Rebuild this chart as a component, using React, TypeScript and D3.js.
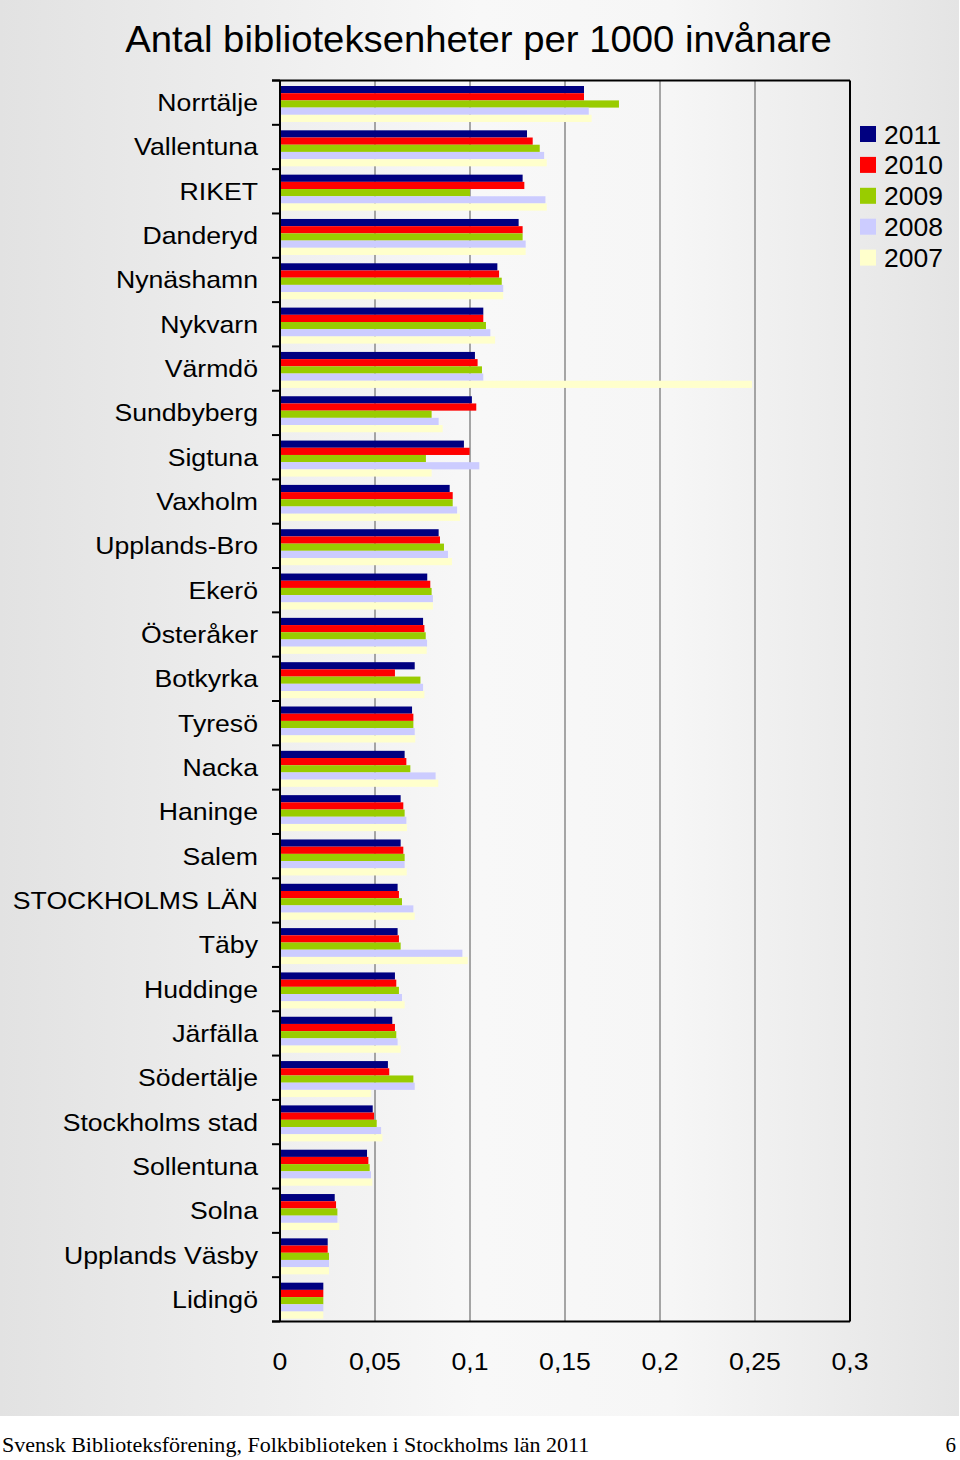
import React from "react";
import * as d3 from "d3";

const categories = [
  "Norrtälje", "Vallentuna", "RIKET", "Danderyd", "Nynäshamn", "Nykvarn", "Värmdö",
  "Sundbyberg", "Sigtuna", "Vaxholm", "Upplands-Bro", "Ekerö", "Österåker", "Botkyrka",
  "Tyresö", "Nacka", "Haninge", "Salem", "STOCKHOLMS LÄN", "Täby", "Huddinge", "Järfälla",
  "Södertälje", "Stockholms stad", "Sollentuna", "Solna", "Upplands Väsby", "Lidingö",
];

const years = ["2011", "2010", "2009", "2008", "2007"];

const v2011 = [0.160, 0.130, 0.1277, 0.1256, 0.1144, 0.107, 0.1026, 0.101, 0.0968, 0.0893, 0.0835, 0.0775, 0.0753, 0.0709, 0.0695, 0.0656, 0.0635, 0.0635, 0.0619, 0.0619, 0.0605, 0.0591, 0.0568, 0.0488, 0.0458, 0.0288, 0.0251, 0.0228];
const v2010 = [0.160, 0.133, 0.1286, 0.1277, 0.1153, 0.107, 0.104, 0.1033, 0.0998, 0.0909, 0.0842, 0.0791, 0.076, 0.0605, 0.0702, 0.0665, 0.0649, 0.0649, 0.0626, 0.0626, 0.0612, 0.0605, 0.0575, 0.0495, 0.0465, 0.0295, 0.0251, 0.0228];
const v2009 = [0.1784, 0.1367, 0.100, 0.1277, 0.1167, 0.1084, 0.1063, 0.0798, 0.0768, 0.0909, 0.0863, 0.0798, 0.0767, 0.0739, 0.0702, 0.0686, 0.0656, 0.0656, 0.0642, 0.0635, 0.0626, 0.0612, 0.0702, 0.0509, 0.0472, 0.0302, 0.0258, 0.0228];
const v2008 = [0.1625, 0.139, 0.1397, 0.1293, 0.1175, 0.1107, 0.107, 0.0835, 0.1049, 0.0932, 0.0884, 0.0805, 0.0774, 0.0753, 0.0709, 0.0819, 0.0665, 0.0656, 0.0702, 0.096, 0.0642, 0.0619, 0.0709, 0.0532, 0.0479, 0.0302, 0.0258, 0.0228];
const v2007 = [0.164, 0.1404, 0.1404, 0.1293, 0.1175, 0.1132, 0.2484, 0.0856, 0.0798, 0.0947, 0.0905, 0.0805, 0.0772, 0.076, 0.0712, 0.0833, 0.0668, 0.0667, 0.0709, 0.0988, 0.0656, 0.0635, 0.048, 0.0539, 0.0486, 0.0312, 0.0258, 0.0228];

const seriesValues = [v2011, v2010, v2009, v2008, v2007];
const colors = ["#000080", "#ff0000", "#99cc00", "#ccccff", "#ffffcc"];
const xTicks = [0, 0.05, 0.1, 0.15, 0.2, 0.25, 0.3];
const tickLabels = ["0", "0,05", "0,1", "0,15", "0,2", "0,25", "0,3"];

const title = "Antal biblioteksenheter per 1000 invånare";
const footer = "Svensk Biblioteksförening, Folkbiblioteken i Stockholms län 2011";
const pageNo = "6";

export default function App() {
  const W = 960, H = 1460;
  const left = 280, right = 850, top = 80.5, bottom = 1321.5;
  const x = d3.scaleLinear().domain([0, 0.3]).range([left, right]);
  const y = d3.scaleBand<string>().domain(categories).range([top, bottom]).padding(0);
  const inner = d3.scaleBand<string>().domain(years).range([5.5, 41.5]).padding(0);
  const sans = "'Liberation Sans', Arial, sans-serif";
  const serif = "'Liberation Serif', 'Times New Roman', serif";
  const boundaries = d3.range(categories.length + 1).map((i) => top + i * y.step());
  const sx = 1.11;

  return (
    <svg width={W} height={H} style={{ position: "absolute", left: 0, top: 0, display: "block" }}>
      <defs>
        <linearGradient id="bg" x1="0" y1="0" x2="1" y2="0">
          <stop offset="0" stopColor="#e2e2e2" />
          <stop offset="0.5" stopColor="#f8f8f8" />
          <stop offset="0.7" stopColor="#f6f6f6" />
          <stop offset="1" stopColor="#e4e4e4" />
        </linearGradient>
      </defs>
      <rect x={0} y={0} width={W} height={H} fill="#ffffff" />
      <rect x={0} y={0} width={959} height={1416} fill="url(#bg)" />

      <g transform={`translate(478.5,52) scale(1.035,1)`}>
        <text x={0} y={0} textAnchor="middle" fontFamily={sans} fontSize={37} fill="#000">
          {title}
        </text>
      </g>

      {xTicks.slice(1, -1).map((t) => (
        <line key={t} x1={x(t)} x2={x(t)} y1={top} y2={bottom} stroke="#8a8a8a" strokeWidth={1.5} />
      ))}

      {seriesValues.map((vals, si) => (
        <g key={years[si]}>
          {categories.map((c, ci) => (
            <rect
              key={c}
              x={x(0)}
              y={(y(c) as number) + (inner(years[si]) as number)}
              width={x(vals[ci]) - x(0)}
              height={inner.bandwidth()}
              fill={colors[si]}
            />
          ))}
        </g>
      ))}

      <line x1={272} x2={right} y1={top} y2={top} stroke="#000" strokeWidth={2} />
      <line x1={right} x2={right} y1={top} y2={bottom} stroke="#000" strokeWidth={2} />
      <line x1={272} x2={right} y1={bottom} y2={bottom} stroke="#000" strokeWidth={2} />
      <line x1={left} x2={left} y1={top} y2={bottom} stroke="#000" strokeWidth={2} />
      {boundaries.map((b, i) => (
        <line key={i} x1={272} x2={left} y1={b} y2={b} stroke="#000" strokeWidth={2} />
      ))}

      {categories.map((c) => (
        <g key={c} transform={`translate(258,${(y(c) as number) + y.bandwidth() / 2 + 8.5}) scale(${sx},1)`}>
          <text x={0} y={0} textAnchor="end" fontFamily={sans} fontSize={24} fill="#000">
            {c}
          </text>
        </g>
      ))}

      {xTicks.map((t, i) => (
        <g key={t} transform={`translate(${x(t)},1370) scale(${sx},1)`}>
          <text x={0} y={0} textAnchor="middle" fontFamily={sans} fontSize={24} fill="#000">
            {tickLabels[i]}
          </text>
        </g>
      ))}

      {years.map((yr, i) => (
        <g key={yr}>
          <rect x={860} y={126 + i * 30.9} width={16} height={16} fill={colors[i]} />
          <g transform={`translate(884,${143.5 + i * 30.9}) scale(1.06,1)`}>
            <text x={0} y={0} fontFamily={sans} fontSize={25} fill="#000">
              {yr}
            </text>
          </g>
        </g>
      ))}

      <g transform="translate(2,1452) scale(1.05,1)">
        <text x={0} y={0} fontFamily={serif} fontSize={21} fill="#000">
          {footer}
        </text>
      </g>
      <text x={956} y={1452} textAnchor="end" fontFamily={serif} fontSize={21} fill="#000">
        {pageNo}
      </text>
    </svg>
  );
}
